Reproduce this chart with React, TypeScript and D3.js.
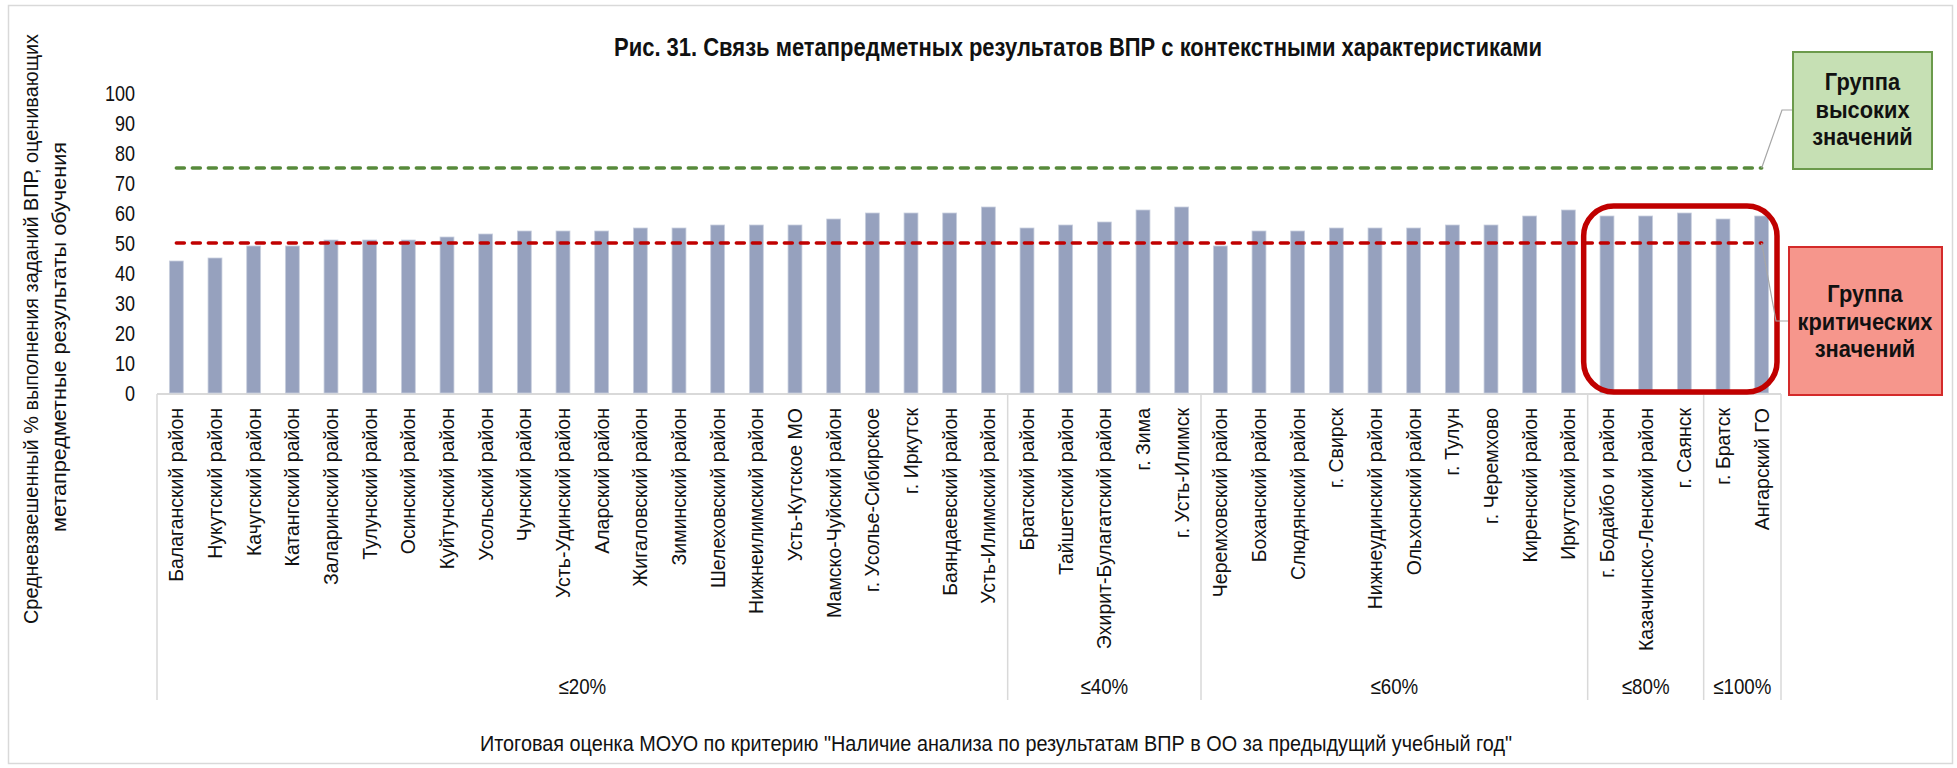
import * as d3 from "d3";
import React from "react";

const categories = [
  "Балаганский район",
  "Нукутский район",
  "Качугский район",
  "Катангский район",
  "Заларинский район",
  "Тулунский район",
  "Осинский район",
  "Куйтунский район",
  "Усольский район",
  "Чунский район",
  "Усть-Удинский район",
  "Аларский район",
  "Жигаловский район",
  "Зиминский район",
  "Шелеховский район",
  "Нижнеилимский район",
  "Усть-Кутское МО",
  "Мамско-Чуйский район",
  "г. Усолье-Сибирское",
  "г. Иркутск",
  "Баяндаевский район",
  "Усть-Илимский район",
  "Братский район",
  "Тайшетский район",
  "Эхирит-Булагатский район",
  "г. Зима",
  "г. Усть-Илимск",
  "Черемховский район",
  "Боханский район",
  "Слюдянский район",
  "г. Свирск",
  "Нижнеудинский район",
  "Ольхонский район",
  "г. Тулун",
  "г. Черемхово",
  "Киренский район",
  "Иркутский район",
  "г. Бодайбо и район",
  "Казачинско-Ленский район",
  "г. Саянск",
  "г. Братск",
  "Ангарский ГО",
];

const values = [
  44, 45, 49, 49, 51, 51, 51, 52, 53, 54, 54, 54, 55, 55, 56, 56, 56, 58, 60, 60,
  60, 62, 55, 56, 57, 61, 62, 49, 54, 54, 55, 55, 55, 56, 56, 59, 61, 59, 59, 60,
  58, 59,
];

const groupLabels = ["≤20%", "≤40%", "≤60%", "≤80%", "≤100%"];
const groupSizes = [22, 5, 10, 3, 2];

const yTicks = [0, 10, 20, 30, 40, 50, 60, 70, 80, 90, 100];

const highLevel = 75;
const criticalLevel = 50;

const title =
  "Рис. 31. Связь метапредметных результатов ВПР с контекстными характеристиками";
const yTitle = [
  "Средневзвешенный % выполнения заданий ВПР, оценивающих",
  "метапредметные результаты обучения",
];
const xTitle =
  'Итоговая оценка МОУО по критерию "Наличие анализа по результатам ВПР в ОО за предыдущий учебный год"';
const highLabel = ["Группа", "высоких", "значений"];
const criticalLabel = ["Группа", "критических", "значений"];

const W = 1957;
const H = 768;
const font = "'Liberation Sans', Arial, sans-serif";

const App = () => {
  const left = 157;
  const right = 1781;
  const x = d3
    .scaleBand()
    .domain(categories)
    .range([left, right])
    .paddingInner(0.64)
    .paddingOuter(0.32);
  const y = d3.scaleLinear().domain([0, 100]).range([393, 93]);
  const step = x.step();
  const bw = x.bandwidth();
  const cx = (i: number) => x(categories[i])! + bw / 2;

  // boundaries of the category groups
  const bounds: number[] = [left];
  groupSizes.reduce((acc, n) => {
    bounds.push(left + step * (acc + n));
    return acc + n;
  }, 0);

  const first = cx(0);
  const last = cx(categories.length - 1);

  const narrow = (
    tx: number,
    ty: number,
    k: number,
    content: string,
    props: any
  ) => (
    <text transform={`translate(${tx},${ty}) scale(${k},1)`} {...props}>
      {content}
    </text>
  );

  // y title: two lines, lengths
  const yTitlePos = [
    { x: 38, cy: 329, len: 590 },
    { x: 66, cy: 337, len: 390 },
  ];

  return (
    <div style={{ position: "absolute", left: 0, top: 0 }}>
      <svg width={W} height={H} style={{ display: "block", background: "#fff" }}>
        <rect
          x={8.5}
          y={5.5}
          width={1944}
          height={758}
          fill="#fff"
          stroke="#d9d9d9"
          strokeWidth={1.5}
        />

        {/* title */}
        <text
          x={1078}
          y={56}
          textAnchor="middle"
          fontFamily={font}
          fontWeight="bold"
          fontSize={25}
          textLength={928}
          lengthAdjust="spacingAndGlyphs"
          fill="#111"
        >
          {title}
        </text>

        {/* y axis title */}
        {yTitle.map((t, i) => (
          <text
            key={i}
            transform={`translate(${yTitlePos[i].x},${yTitlePos[i].cy}) rotate(-90)`}
            textAnchor="middle"
            fontFamily={font}
            fontSize={19.5}
            textLength={yTitlePos[i].len}
            lengthAdjust="spacingAndGlyphs"
            fill="#111"
          >
            {t}
          </text>
        ))}

        {/* y ticks */}
        {yTicks.map((t) =>
          narrow(135, y(t), 0.82, String(t), {
            key: t,
            textAnchor: "end",
            dy: "0.36em",
            fontFamily: font,
            fontSize: 22,
            fill: "#111",
          })
        )}

        {/* category axis box */}
        <line x1={left} x2={right} y1={394} y2={394} stroke="#d9d9d9" strokeWidth={2} />
        {bounds.map((b, i) => (
          <line key={i} x1={b} x2={b} y1={394} y2={700} stroke="#d9d9d9" strokeWidth={1.5} />
        ))}

        {/* bars */}
        {values.map((v, i) => (
          <rect
            key={i}
            x={x(categories[i])}
            y={y(v)}
            width={bw}
            height={y(0) - y(v)}
            fill="#96a1be"
            stroke="#c9cfde"
            strokeWidth={0.8}
          />
        ))}

        {/* category labels */}
        {categories.map((c, i) => (
          <text
            key={c}
            transform={`translate(${cx(i)},408) rotate(-90)`}
            textAnchor="end"
            dominantBaseline="central"
            fontFamily={font}
            fontSize={19.5}
            fill="#111"
          >
            {c}
          </text>
        ))}

        {/* group labels */}
        {groupLabels.map((g, i) =>
          narrow((bounds[i] + bounds[i + 1]) / 2, 694, 0.85, g, {
            key: g,
            textAnchor: "middle",
            fontFamily: font,
            fontSize: 22,
            fill: "#111",
          })
        )}

        {/* x axis title */}
        <text
          x={996}
          y={751}
          textAnchor="middle"
          fontFamily={font}
          fontSize={22}
          textLength={1032}
          lengthAdjust="spacingAndGlyphs"
          fill="#111"
        >
          {xTitle}
        </text>

        {/* threshold lines */}
        <line
          x1={first}
          x2={last}
          y1={y(highLevel)}
          y2={y(highLevel)}
          stroke="#578a3b"
          strokeWidth={3.5}
          strokeDasharray="8 8"
          strokeLinecap="round"
        />
        <line
          x1={first}
          x2={last}
          y1={y(criticalLevel)}
          y2={y(criticalLevel)}
          stroke="#c00000"
          strokeWidth={3.5}
          strokeDasharray="8 8"
          strokeLinecap="round"
        />

        {/* highlight of last groups */}
        <rect
          x={bounds[3] - 4}
          y={y(62.3)}
          width={bounds[5] - bounds[3]}
          height={y(0.3) - y(62.3)}
          rx={30}
          ry={30}
          fill="none"
          stroke="#c00000"
          strokeWidth={5.5}
        />

        {/* leader lines */}
        <polyline
          points={`${last},${y(highLevel)} 1782,110 1793,110`}
          fill="none"
          stroke="#a6a6a6"
          strokeWidth={1.2}
        />
        <polyline
          points={`${last},${y(criticalLevel)} 1776,321 1789,321`}
          fill="none"
          stroke="#a6a6a6"
          strokeWidth={1.2}
        />

        {/* callout boxes */}
        <rect x={1793} y={52} width={139} height={117} fill="#c6e0b4" stroke="#6b9a4b" strokeWidth={2} />
        {highLabel.map((t, i) =>
          narrow(1862.5, 90 + i * 27.5, 0.95, t, {
            key: i,
            textAnchor: "middle",
            fontFamily: font,
            fontWeight: "bold",
            fontSize: 23,
            fill: "#111",
          })
        )}
        <rect x={1789} y={247} width={153} height={148} fill="#f6968c" stroke="#d42a2a" strokeWidth={2} />
        {criticalLabel.map((t, i) =>
          narrow(1865, 302 + i * 27.5, 0.95, t, {
            key: i,
            textAnchor: "middle",
            fontFamily: font,
            fontWeight: "bold",
            fontSize: 23,
            fill: "#111",
          })
        )}
      </svg>
    </div>
  );
};

export default App;
